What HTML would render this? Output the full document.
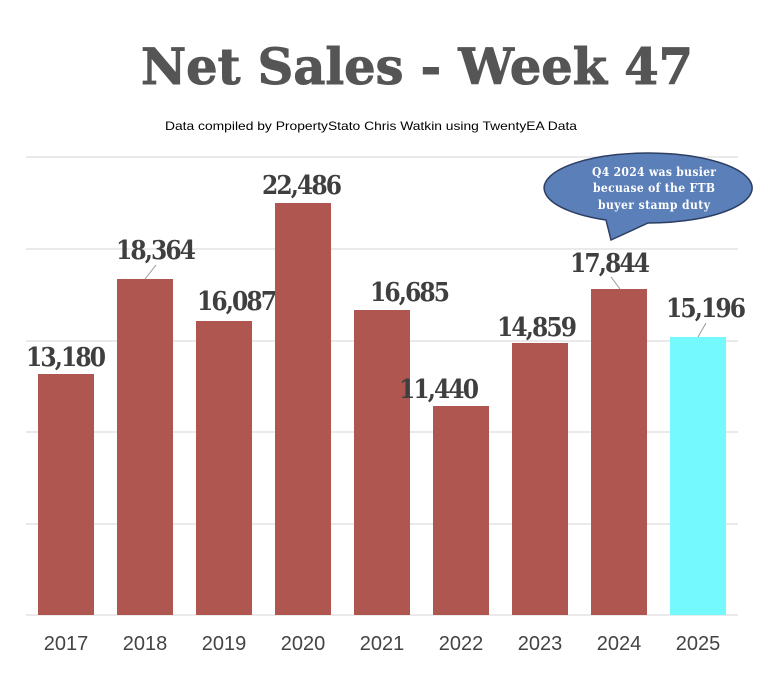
<!DOCTYPE html>
<html><head><meta charset="utf-8"><style>
html,body{margin:0;padding:0;background:#fff;}
</style></head><body>
<svg width="771" height="669" viewBox="0 0 771 669" xmlns="http://www.w3.org/2000/svg">
<rect width="771" height="669" fill="#fff"/>
<text x="417" y="84" text-anchor="middle" font-family="DejaVu Serif, serif" font-weight="bold" font-size="50" fill="#555" stroke="#555" stroke-width="1" textLength="552" lengthAdjust="spacingAndGlyphs">Net Sales - Week 47</text>
<text x="371" y="130" text-anchor="middle" font-family="Liberation Sans, sans-serif" font-size="12" fill="#000" textLength="412" lengthAdjust="spacingAndGlyphs">Data compiled by PropertyStato Chris Watkin using TwentyEA Data</text>
<g stroke="#ddd" stroke-width="1.2">
<line x1="26" y1="157" x2="738" y2="157"/>
<line x1="26" y1="249" x2="738" y2="249"/>
<line x1="26" y1="341" x2="738" y2="341"/>
<line x1="26" y1="432" x2="738" y2="432"/>
<line x1="26" y1="524" x2="738" y2="524"/>
<line x1="26" y1="615" x2="738" y2="615"/>
</g>
<g fill="#b05651">
<rect x="38" y="374" width="56" height="241"/>
<rect x="117" y="279" width="56" height="336"/>
<rect x="196" y="321" width="56" height="294"/>
<rect x="275" y="203" width="56" height="412"/>
<rect x="354" y="310" width="56" height="305"/>
<rect x="433" y="406" width="56" height="209"/>
<rect x="512" y="343" width="56" height="272"/>
<rect x="591" y="289" width="56" height="326"/>
</g>
<rect x="670" y="337" width="56" height="278" fill="#74fafe"/>
<g stroke="#999" stroke-width="1">
<line x1="156" y1="265" x2="145" y2="279"/>
<line x1="611" y1="277" x2="620" y2="289"/>
<line x1="706" y1="323" x2="698" y2="337"/>
</g>
<g font-family="DejaVu Serif Condensed, DejaVu Serif, serif" font-weight="bold" font-size="26" fill="#3f3f3f" text-anchor="middle" lengthAdjust="spacingAndGlyphs">
<text x="66" y="366" textLength="80">13,180</text>
<text x="156" y="259" textLength="80">18,364</text>
<text x="237" y="310" textLength="80">16,087</text>
<text x="302" y="194" textLength="80">22,486</text>
<text x="410" y="301" textLength="80">16,685</text>
<text x="439" y="398" textLength="80">11,440</text>
<text x="537" y="336" textLength="80">14,859</text>
<text x="610" y="272" textLength="80">17,844</text>
<text x="706" y="317" textLength="80">15,196</text>
</g>
<g font-family="Liberation Sans, sans-serif" font-size="20" fill="#444" text-anchor="middle">
<text x="66" y="650">2017</text>
<text x="145" y="650">2018</text>
<text x="224" y="650">2019</text>
<text x="303" y="650">2020</text>
<text x="382" y="650">2021</text>
<text x="461" y="650">2022</text>
<text x="540" y="650">2023</text>
<text x="619" y="650">2024</text>
<text x="698" y="650">2025</text>
</g>
<path d="M 606 220 A 104 35 0 1 1 648 223 L 611 240 Z" fill="#5b7fb8" stroke="#2c3e63" stroke-width="1.5"/>
<g font-family="DejaVu Serif Condensed, DejaVu Serif, serif" font-weight="bold" font-size="12" fill="#fff" text-anchor="middle" lengthAdjust="spacingAndGlyphs">
<text x="654" y="176" textLength="124">Q4 2024 was busier</text>
<text x="654" y="192" textLength="122">becuase of the FTB</text>
<text x="654" y="209" textLength="112">buyer stamp duty</text>
</g>
</svg>
</body></html>
